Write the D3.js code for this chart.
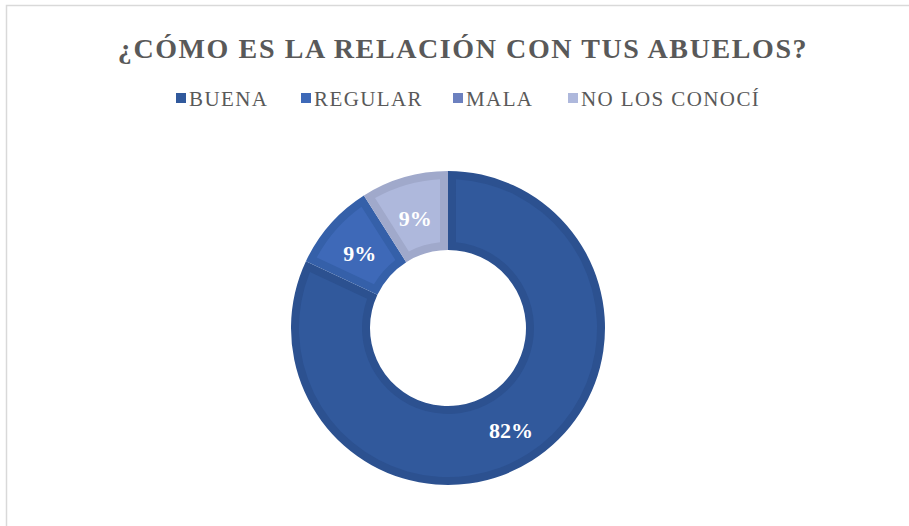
<!DOCTYPE html>
<html>
<head>
<meta charset="utf-8">
<script src="https://cdn.jsdelivr.net/npm/d3@7"></script>
<style>
  body { margin: 0; background: #fff; }
</style>
</head>
<body>
<div id="chart"></div>
<script>
const categories = ["BUENA", "REGULAR", "MALA", "NO LOS CONOCÍ"];
const values = [82, 9, 0, 9];
const fillColors = ["#31599c", "#3e69b8", "#6c80bf", "#aeb8dc"];
const edgeColors = ["#2c5190", "#3560a9", "#6275b2", "#a0a9cb"];

const width = 909, height = 526;
const serif = "'Liberation Serif', Tinos, 'Times New Roman', Times, 'DejaVu Serif', 'Noto Serif', serif";

const svg = d3.select("#chart")
  .append("svg")
  .attr("width", width)
  .attr("height", height);

// chart frame
svg.append("rect")
  .attr("x", 6.5)
  .attr("y", 5.5)
  .attr("width", width + 10)
  .attr("height", height + 10)
  .attr("fill", "none")
  .attr("stroke", "#d9d9d9")
  .attr("stroke-width", 1.5);

svg.append("text")
  .text("¿CÓMO ES LA RELACIÓN CON TUS ABUELOS?")
  .attr("x", 463)
  .attr("y", 58)
  .attr("text-anchor", "middle")
  .style("font-family", serif)
  .style("font-weight", "bold")
  .style("font-size", "28px")
  .style("letter-spacing", "1.6px")
  .attr("fill", "#595959");

// legend
const legendX = [176, 301, 453, 568];
const legend = svg.selectAll("g.legend")
  .data(categories)
  .join("g")
  .attr("class", "legend")
  .attr("transform", (d, i) => `translate(${legendX[i]}, 93)`);

legend.append("rect")
  .attr("width", 10)
  .attr("height", 10)
  .attr("fill", (d, i) => fillColors[i]);

legend.append("text")
  .text(d => d)
  .attr("x", 13)
  .attr("y", 13)
  .style("font-family", serif)
  .style("font-size", "21px")
  .style("letter-spacing", "1.4px")
  .attr("fill", "#595959");

// donut
const cx = 448, cy = 328, outerR = 157, innerR = 78, inset = 8;

const pie = d3.pie().sort(null).value(d => d.value);
const arcs = pie(categories.map((c, i) => ({ name: c, value: values[i], i })));

const outerArc = d3.arc().innerRadius(innerR).outerRadius(outerR);
const innerArc = d3.arc()
  .innerRadius(innerR + inset)
  .outerRadius(outerR - inset)
  .padRadius(outerR)
  .padAngle(2 * inset / outerR);
const labelArc = d3.arc().innerRadius(innerR).outerRadius(outerR);

const g = svg.append("g").attr("transform", `translate(${cx}, ${cy})`);

g.selectAll("path.edge")
  .data(arcs)
  .join("path")
  .attr("class", "edge")
  .attr("d", outerArc)
  .attr("fill", d => edgeColors[d.data.i]);

g.selectAll("path.face")
  .data(arcs.filter(d => d.data.value > 0))
  .join("path")
  .attr("class", "face")
  .attr("d", innerArc)
  .attr("fill", d => fillColors[d.data.i]);

g.selectAll("text.pct")
  .data(arcs.filter(d => d.data.value > 0))
  .join("text")
  .attr("class", "pct")
  .text(d => d.data.value + "%")
  .attr("transform", d => {
    const [x, y] = labelArc.centroid(d);
    return `translate(${x}, ${y + 3})`;
  })
  .attr("text-anchor", "middle")
  .attr("dy", "0.35em")
  .style("font-family", serif)
  .style("font-weight", "bold")
  .style("font-size", "22px")
  .attr("fill", "#ffffff");
</script>
</body>
</html>
